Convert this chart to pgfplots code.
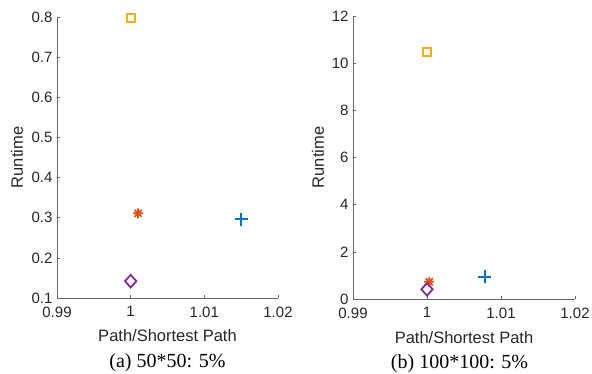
\documentclass[border=0pt]{standalone}
\usepackage{fontspec}
\setmainfont{Liberation Sans}
\newfontfamily\captionfont{Liberation Serif}
\usepackage{pgfplots}
\pgfplotsset{compat=1.18}

\definecolor{mblue}{rgb}{0,0.447,0.741}
\definecolor{morange}{rgb}{0.85,0.325,0.098}
\definecolor{myellow}{rgb}{0.929,0.694,0.125}
\definecolor{mpurple}{rgb}{0.494,0.184,0.556}
\definecolor{mtext}{rgb}{0.15,0.15,0.15}

% eight-spoke asterisk: a plus and a cross on top of each other
\pgfdeclareplotmark{spoke8}{%
  \pgfpathmoveto{\pgfqpoint{-\pgfplotmarksize}{0pt}}%
  \pgfpathlineto{\pgfqpoint{\pgfplotmarksize}{0pt}}%
  \pgfpathmoveto{\pgfqpoint{0pt}{-\pgfplotmarksize}}%
  \pgfpathlineto{\pgfqpoint{0pt}{\pgfplotmarksize}}%
  \pgfpathmoveto{\pgfqpoint{-0.707\pgfplotmarksize}{-0.707\pgfplotmarksize}}%
  \pgfpathlineto{\pgfqpoint{0.707\pgfplotmarksize}{0.707\pgfplotmarksize}}%
  \pgfpathmoveto{\pgfqpoint{-0.707\pgfplotmarksize}{0.707\pgfplotmarksize}}%
  \pgfpathlineto{\pgfqpoint{0.707\pgfplotmarksize}{-0.707\pgfplotmarksize}}%
  \pgfusepathqstroke
}

\pgfplotsset{
  panel/.style={
    scale only axis,
    clip=false,
    axis lines*=left,
    axis line style={-, draw=black!60, line width=0.6pt},
    tick style={draw=black!60, line width=0.6pt},
    tick align=inside,
    major tick length=3pt,
    xmin=0.99, xmax=1.02,
    xtick={0.99,1,1.01,1.02},
    xticklabels={0.99,1,1.01,1.02},
    /pgf/number format/assume math mode=true,
    ticklabel style={font=\fontsize{15}{15}\selectfont, text=mtext},
    xticklabel style={yshift=-5pt},
    yticklabel style={xshift=-1pt},
    label style={font=\fontsize{16.5}{16.5}\selectfont, text=mtext},
    xlabel={Path/Shortest Path},
    xlabel style={at={(axis description cs:0.5,-0.135)}, anchor=center},
    ylabel={Runtime},
  },
  plusmark/.style={only marks, mark=+, mark size=6.5pt, line width=2pt, color=mblue},
  starmark/.style={only marks, mark=spoke8, mark size=5pt, line width=1.7pt, color=morange},
  squaremark/.style={only marks, mark=square, mark size=4pt, line width=1.8pt, color=myellow},
  diamondmark/.style={only marks, mark=diamond, mark size=6.3pt, line width=1.8pt, color=mpurple,
    mark options={xscale=1.2}},
}

\begin{document}
\begin{tikzpicture}[x=1pt,y=1pt]
\useasboundingbox (0,0) rectangle (592,373);

% (a) 50*50 grid
\begin{axis}[panel,
  at={(57pt,75pt)}, anchor=south west,
  width=221pt, height=281pt,
  ymin=0.1, ymax=0.8,
  ytick={0.1,0.2,0.3,0.4,0.5,0.6,0.7,0.8},
  yticklabels={0.1,0.2,0.3,0.4,0.5,0.6,0.7,0.8},
  ylabel style={at={(axis description cs:-0.181,0.5)}, anchor=center},
]
\addplot[plusmark] coordinates {(1.015,0.296)};
\addplot[starmark] coordinates {(1.001,0.311)};
\addplot[squaremark] coordinates {(1.0,0.797)};
\addplot[diamondmark] coordinates {(1.0,0.142)};
\node[font=\captionfont\fontsize{20}{20}\selectfont, text=black] at (axis description cs:0.5,-0.231) {(a) 50*50: 5\%};
\end{axis}

% (b) 100*100 grid
\begin{axis}[panel,
  at={(353pt,74pt)}, anchor=south west,
  width=222pt, height=283pt,
  ymin=0, ymax=12,
  ytick={0,2,4,6,8,10,12},
  yticklabels={0,2,4,6,8,10,12},
  ylabel style={at={(axis description cs:-0.158,0.5)}, anchor=center},
]
\addplot[plusmark] coordinates {(1.0078,0.95)};
\addplot[starmark] coordinates {(1.0003,0.73)};
\addplot[squaremark] coordinates {(1.0,10.46)};
\addplot[diamondmark] coordinates {(1.0,0.41)};
\node[font=\captionfont\fontsize{20}{20}\selectfont, text=black] at (axis description cs:0.48,-0.229) {(b) 100*100: 5\%};
\end{axis}
\end{tikzpicture}
\end{document}
